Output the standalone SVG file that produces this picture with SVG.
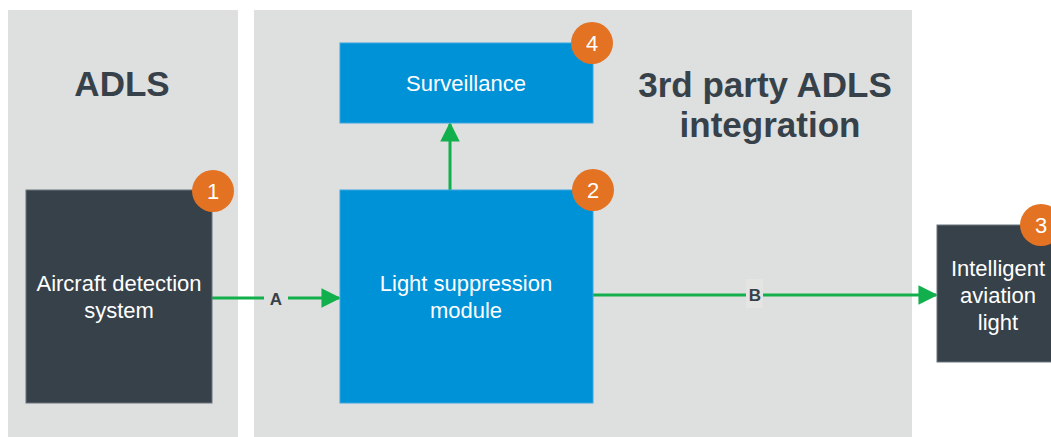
<svg xmlns="http://www.w3.org/2000/svg" width="1051" height="437" viewBox="0 0 1051 437">
<defs>
<style>
.panel{fill:#dedfdf}
.dark{fill:#37414a;stroke:#6b757d;stroke-width:1}
.blue{fill:#0092d7;stroke:#3aa6e0;stroke-width:1}
.badge{fill:#e37222}
.lbl{font-family:"Liberation Sans",Arial,sans-serif;font-size:22px;fill:#ffffff;text-anchor:middle}
.title{font-family:"Liberation Sans",Arial,sans-serif;font-size:35px;font-weight:bold;fill:#37414a;text-anchor:middle}
.num{font-family:"Liberation Sans",Arial,sans-serif;font-size:22px;fill:#ffffff;text-anchor:middle}
.edge{stroke:#12b04c;stroke-width:3;fill:none}
.elbl{font-family:"Liberation Sans",Arial,sans-serif;font-size:17px;font-weight:bold;fill:#37414a;text-anchor:middle}
</style>
<marker id="arrL" viewBox="0 0 10 10" refX="9" refY="5" markerWidth="6.5" markerHeight="6.5" orient="auto">
<path d="M0,0 L10,5 L0,10 Z" fill="#12b04c"/>
</marker>
</defs>
<rect width="1051" height="437" fill="#ffffff"/>
<g id="panel-adls">
<rect class="panel" x="8" y="10" width="230" height="427"/>
<text class="title" x="122" y="96">ADLS</text>
</g>
<g id="panel-3rd">
<rect class="panel" x="254" y="10" width="658" height="427"/>
<text class="title" x="765" y="97">3rd party ADLS</text>
<text class="title" x="770" y="137">integration</text>
</g>
<g id="connectors">
<line class="edge" x1="212" y1="298" x2="264" y2="298"/>
<line class="edge" x1="288" y1="298" x2="339" y2="298" marker-end="url(#arrL)"/>
<text class="elbl" x="276" y="305">A</text>
<line class="edge" x1="450" y1="190" x2="450" y2="124" marker-end="url(#arrL)"/>
<line class="edge" x1="593" y1="295" x2="936" y2="295" marker-end="url(#arrL)"/>
<rect x="746" y="279" width="17" height="29" fill="#e4e4e2"/>
<text class="elbl" x="755" y="301">B</text>
</g>
<g id="node-aircraft">
<rect class="dark" x="26" y="190" width="186" height="213"/>
<text class="lbl" x="119" y="291">Aircraft detection</text>
<text class="lbl" x="119" y="318">system</text>
<circle class="badge" cx="213" cy="191" r="21"/>
<text class="num" x="213" y="199">1</text>
</g>
<g id="node-surveillance">
<rect class="blue" x="340" y="43" width="253" height="80"/>
<text class="lbl" x="466" y="91">Surveillance</text>
<circle class="badge" cx="592" cy="43" r="21"/>
<text class="num" x="592" y="51">4</text>
</g>
<g id="node-lsm">
<rect class="blue" x="340" y="190" width="253" height="213"/>
<text class="lbl" x="466" y="291">Light suppression</text>
<text class="lbl" x="466" y="318">module</text>
<circle class="badge" cx="593" cy="190" r="21"/>
<text class="num" x="593" y="198">2</text>
</g>
<g id="node-light">
<rect class="dark" x="937" y="225" width="130" height="137"/>
<text class="lbl" x="998" y="276">Intelligent</text>
<text class="lbl" x="998" y="303">aviation</text>
<text class="lbl" x="998" y="330">light</text>
<circle class="badge" cx="1041" cy="225" r="21"/>
<text class="num" x="1041" y="233">3</text>
</g>
</svg>
